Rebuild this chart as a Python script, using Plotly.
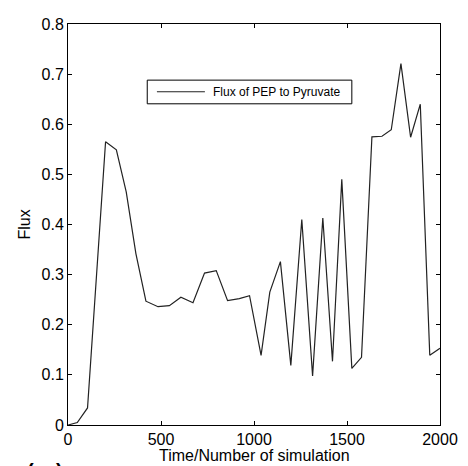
import plotly.graph_objects as go

# Data
sim_time = [0, 50, 105, 202, 260, 313, 365, 419, 484, 545, 607, 672, 734, 797,
            858, 921, 976, 1038, 1085, 1142, 1198, 1257, 1315, 1370, 1422, 1472,
            1526, 1578, 1634, 1688, 1738, 1790, 1842, 1894, 1945, 2000]
flux_pep_pyr = [0.0, 0.005, 0.034, 0.565, 0.549, 0.465, 0.342, 0.247, 0.236, 0.238,
                0.255, 0.244, 0.303, 0.308, 0.248, 0.252, 0.258, 0.139, 0.265, 0.326,
                0.119, 0.410, 0.098, 0.413, 0.127, 0.490, 0.113, 0.135, 0.575, 0.576,
                0.589, 0.721, 0.574, 0.640, 0.139, 0.153]
x_ticks = [0, 500, 1000, 1500, 2000]
y_ticks = [0, 0.1, 0.2, 0.3, 0.4, 0.5, 0.6, 0.7, 0.8]
y_tick_labels = ["0", "0.1", "0.2", "0.3", "0.4", "0.5", "0.6", "0.7", "0.8"]
series_name = "Flux of PEP to Pyruvate"

FONT = "Liberation Sans, Arial, Helvetica, sans-serif"

fig = go.Figure()
fig.add_trace(go.Scatter(x=sim_time, y=flux_pep_pyr, mode="lines",
                         line=dict(color="#222222", width=1.2),
                         name=series_name, showlegend=False))

axis_common = dict(showline=True, linecolor="black", linewidth=1, mirror="ticks",
                   ticks="inside", ticklen=4, tickcolor="black", showgrid=False,
                   zeroline=False, ticklabeloverflow="allow",
                   tickfont=dict(family=FONT, size=16, color="black"))

# The page body adds an 8px offset, so the figure is 8px smaller with margins shifted
fig.update_layout(
    width=460, height=458,
    margin=dict(l=60, r=28, t=8, b=41),
    paper_bgcolor="white", plot_bgcolor="white",
    font=dict(family=FONT, color="black"),
    xaxis=dict(range=[0, 2000], tickvals=x_ticks, **axis_common),
    yaxis=dict(range=[0, 0.8], tickvals=y_ticks, ticktext=y_tick_labels, **axis_common),
    showlegend=False,
)

# Manual legend box
fig.add_shape(type="rect", xref="paper", yref="paper", x0=0.213, x1=0.763, y0=0.801, y1=0.860,
              line=dict(color="black", width=1), fillcolor="white")
fig.add_shape(type="line", xref="paper", yref="paper", x0=0.239, x1=0.368, y0=0.831, y1=0.831,
              line=dict(color="#222222", width=1.2))
fig.add_annotation(xref="paper", yref="paper", x=0.384, y=0.831, xanchor="left", yanchor="middle",
                   text=series_name, showarrow=False, font=dict(family=FONT, size=12, color="black"))

# Axis titles
fig.add_annotation(xref="paper", yref="paper", x=0.5, y=(425 - 456) / 409, xanchor="center",
                   yanchor="middle", text="Time/Number of simulation", showarrow=False,
                   font=dict(family=FONT, size=16, color="black"))
fig.add_annotation(xref="paper", yref="paper", x=(24 - 68) / 372, y=0.5, xanchor="center",
                   yanchor="middle", text="Flux", textangle=-90, showarrow=False,
                   font=dict(family=FONT, size=16, color="black"))
# Panel label (cut off at the bottom edge in the reference)
fig.add_annotation(xref="paper", yref="paper", x=(45 - 68) / 372, y=(425 - 459) / 409,
                   xanchor="center", yanchor="top", text="<b>( a )</b>", showarrow=False,
                   font=dict(family=FONT, size=20, color="black"))

fig.write_html("out.html")
